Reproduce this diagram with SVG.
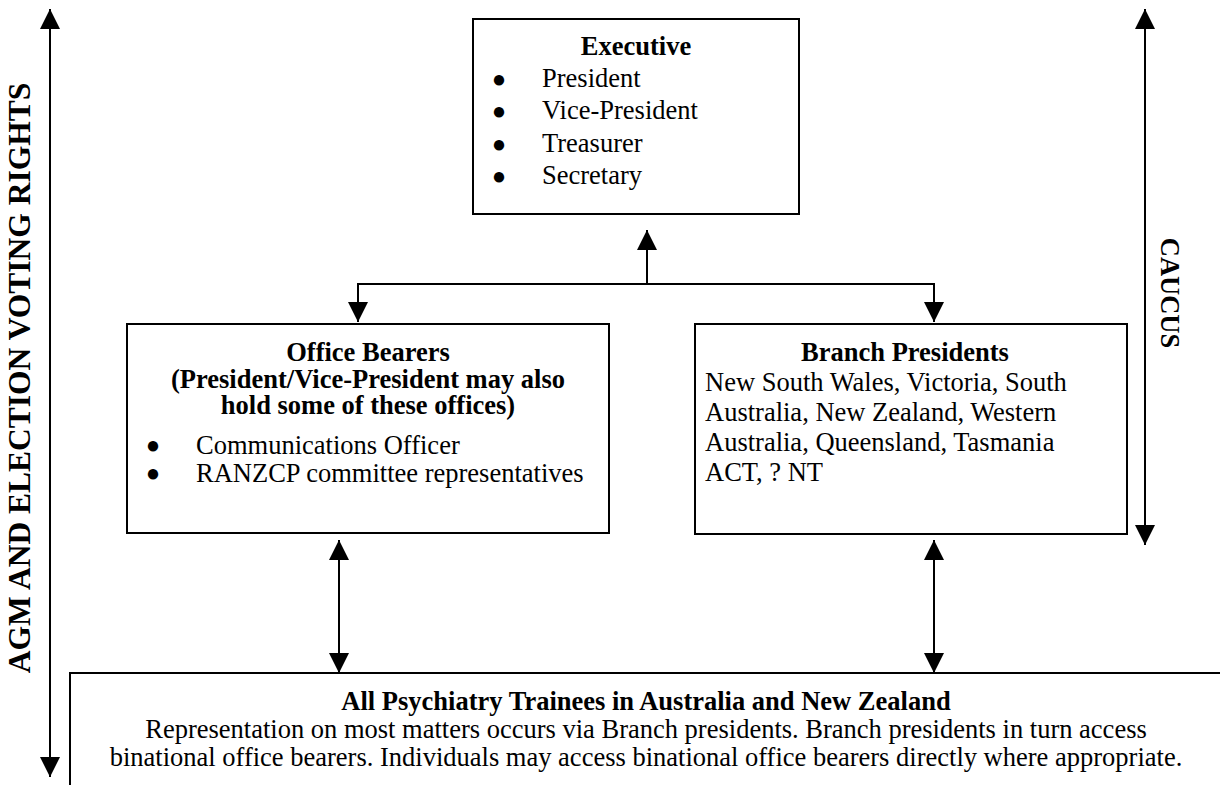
<svg xmlns="http://www.w3.org/2000/svg" width="1220" height="785" viewBox="0 0 1220 785">
<style>
.t{font-family:"Liberation Serif","Times New Roman",serif;font-size:26.5px;fill:#000}
.b{font-weight:bold}
.c{text-anchor:middle}
.bul{font-family:"Liberation Serif","DejaVu Serif",serif;font-size:24px;text-anchor:middle;fill:#000}
.box{fill:#fff;stroke:#000;stroke-width:2}
.ln{fill:none;stroke:#000;stroke-width:2;marker-end:url(#ah)}
.dbl{marker-start:url(#ah)}
</style>
<defs>
<marker id="ah" viewBox="0 0 20 20" refX="20" refY="10" markerWidth="20" markerHeight="20" markerUnits="userSpaceOnUse" orient="auto-start-reverse">
<path d="M0,0 L20,10 L0,20 z" fill="#000"/>
</marker>
</defs>
<rect width="1220" height="785" fill="#fff"/>
<g id="connectors">
<path class="ln dbl" d="M50,9 L50,777"/>
<path class="ln dbl" d="M1145,9 L1145,545"/>
<path class="ln dbl" d="M358,322 L358,284 L934,284 L934,322"/>
<path class="ln" d="M647,284 L647,230"/>
<path class="ln dbl" d="M339,540 L339,673"/>
<path class="ln dbl" d="M934,540 L934,673"/>
</g>
<g id="label-agm">
<text class="t b c" style="font-size:31.5px" transform="translate(30,378) rotate(-90)">AGM AND ELECTION VOTING RIGHTS</text>
</g>
<g id="label-caucus">
<text class="t b c" transform="translate(1161,293) rotate(90)">CAUCUS</text>
</g>
<g id="executive">
<rect class="box" x="473" y="19" width="326" height="195"/>
<text class="t b c" x="636" y="55">Executive</text>
<text class="bul" x="499" y="86.5">●</text><text class="t" x="542" y="87">President</text>
<text class="bul" x="499" y="118.5">●</text><text class="t" x="542" y="119">Vice-President</text>
<text class="bul" x="499" y="151.5">●</text><text class="t" x="542" y="152">Treasurer</text>
<text class="bul" x="499" y="183.5">●</text><text class="t" x="542" y="184">Secretary</text>
</g>
<g id="office-bearers">
<rect class="box" x="127" y="324" width="482" height="209"/>
<text class="t b c" x="368" y="361">Office Bearers<tspan x="368" dy="27">(President/Vice-President may also</tspan><tspan x="368" dy="26">hold some of these offices)</tspan></text>
<text class="bul" x="153" y="453">●</text><text class="t" x="196" y="454">Communications Officer</text>
<text class="bul" x="153" y="481">●</text><text class="t" x="196" y="482">RANZCP committee representatives</text>
</g>
<g id="branch-presidents">
<rect class="box" x="695" y="324" width="432" height="210"/>
<text class="t b c" x="905" y="361">Branch Presidents</text>
<text class="t" x="705" y="391">New South Wales, Victoria, South<tspan x="705" dy="30">Australia, New Zealand, Western</tspan><tspan x="705" dy="30">Australia, Queensland, Tasmania</tspan><tspan x="705" dy="30">ACT, ? NT</tspan></text>
</g>
<g id="trainees">
<rect class="box" x="70" y="673" width="1200" height="200"/>
<text class="t b c" x="646" y="710">All Psychiatry Trainees in Australia and New Zealand</text>
<text class="t c" x="646" y="738">Representation on most matters occurs via Branch presidents. Branch presidents in turn access<tspan x="646" dy="28">binational office bearers. Individuals may access binational office bearers directly where appropriate.</tspan></text>
</g>
</svg>
